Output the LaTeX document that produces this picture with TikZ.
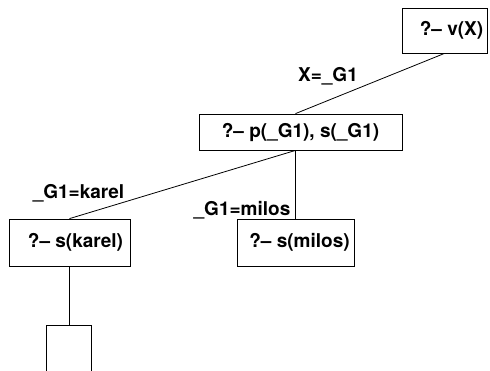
\documentclass[tikz,border=0pt]{standalone}
\usepackage{fontspec}
\setmainfont{TeX Gyre Heros}
\begin{document}
\begin{tikzpicture}[x=1pt,y=-1pt,
  font=\fontsize{19}{22}\selectfont\bfseries,
  box/.style={draw,line width=0.8pt,rectangle,inner sep=0pt},
  lbl/.style={anchor=base,inner sep=0pt},
  conn/.style={line width=0.8pt}]
\clip (0,0) rectangle (490,370);
\node[box,minimum width=85pt,minimum height=45pt,label={[xshift=7pt]center:?\textendash\ v(X)}] (a) at (444.5,30.5) {};
\node[box,minimum width=203pt,minimum height=36pt,label={center:?\textendash\ p(\_G1), s(\_G1)}] (b) at (300.5,132) {};
\node[box,minimum width=121pt,minimum height=47pt,label={[xshift=6pt]center:?\textendash\ s(karel)}] (c) at (69.5,242.5) {};
\node[box,minimum width=117pt,minimum height=47pt,label={[xshift=4pt]center:?\textendash\ s(milos)}] (d) at (295.5,242.5) {};
\node[box,minimum width=45pt,minimum height=50pt] (e) at (69,350) {};
\draw[conn] (a.south) -- (b.north -| d.north);
\draw[conn] (b.south -| d.north) -- (c.north);
\draw[conn] (b.south -| d.north) -- (d.north);
\draw[conn] (c.south) -- (c.south |- e.north);
\node[lbl] (l1) at (328,81) {X=\_G1};
\node[lbl] (l2) at (78.5,198) {\_G1=karel};
\node[lbl] (l3) at (242,215) {\_G1=milos};
\end{tikzpicture}
\end{document}
